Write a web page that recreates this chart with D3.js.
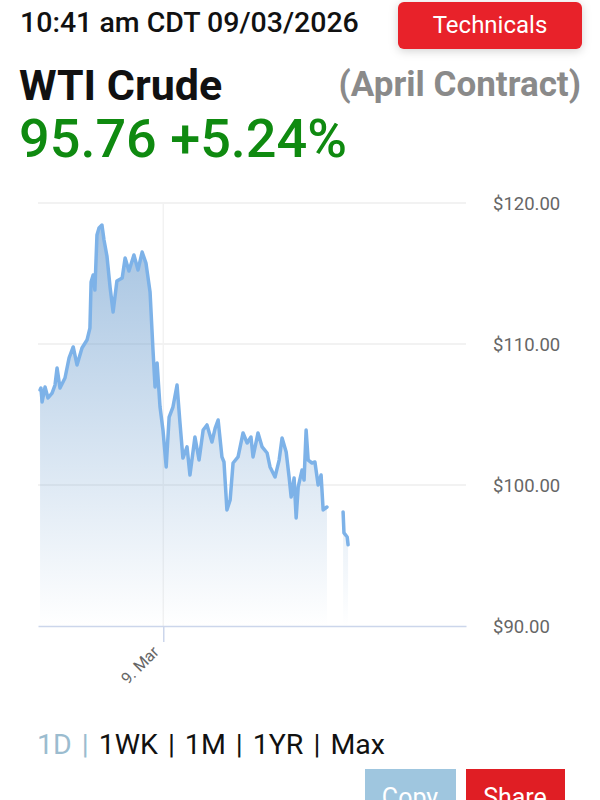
<!DOCTYPE html>
<html>
<head>
<meta charset="utf-8">
<script src="https://cdn.jsdelivr.net/npm/d3@7/dist/d3.min.js"></script>
<style>
  html, body { margin: 0; padding: 0; background: #fff; }
  svg { display: block; font-family: Roboto, "Noto Sans", sans-serif; }
</style>
</head>
<body>
<svg id="chart" width="600" height="800"></svg>
<script>
// ---- data ----
// minutes since 8 Mar 2026 17:00 CDT; null price marks a gap in trading data
const minutes = [0,3,7,17,27,41,51,58,68,85,99,113,126,143,160,170,174,181,187,194,201,211,218,228,239,249,262,280,290,303,320,334,348,361,375,385,392,399,409,419,430,440,453,467,477,487,501,511,528,542,556,569,586,597,607,620,627,637,648,658,675,692,706,719,726,743,757,774,784,801,815,825,839,849,856,866,873,880,893,900,907,914,927,937,948,958,965,978,1005,1033,1036,1047,1050];
const prices = [106.74,106.88,105.89,106.95,106.17,106.52,107.09,108.30,106.88,107.59,109.01,109.79,108.51,109.72,110.28,111.13,114.40,114.89,113.83,117.73,118.23,118.44,117.38,116.24,113.97,112.27,114.47,114.68,116.10,115.18,116.31,115.25,116.52,115.74,113.69,109.57,106.95,108.65,105.53,103.90,101.28,104.82,105.53,107.09,104.40,101.91,102.70,100.71,103.40,101.77,103.90,104.26,103.05,104.04,104.61,101.99,101.63,98.23,98.94,101.56,101.99,103.69,102.98,103.40,101.99,103.69,102.70,102.27,101.28,100.57,101.77,103.33,102.34,100.57,99.15,100.50,97.66,99.86,101.06,100.35,103.90,101.77,101.56,101.63,100.00,100.71,98.23,98.44,null,98.09,96.60,96.31,95.76];
const yTicks = [90, 100, 110, 120];
const xTickLabels = ["9. Mar"];
const ranges = ["1D", "1WK", "1M", "1YR", "Max"];
const headerTime = "10:41 am CDT 09/03/2026";
const title = "WTI Crude";
const contract = "(April Contract)";
const lastPrice = "95.76";
const change = "+5.24%";

// ---- setup ----
const svg = d3.select("#chart");
const start = new Date(2026, 2, 8, 17, 0);
const data = minutes.map((m, i) => ({ t: new Date(start.getTime() + m * 60000), v: prices[i] }));

const x = d3.scaleTime()
  .domain([new Date(2026, 2, 8, 16, 53), new Date(2026, 2, 9, 17, 12)])
  .range([38, 466]);
const y = d3.scaleLinear().domain([90, 120]).range([626, 203]);

// ---- header ----
svg.append("text").attr("x", 20).attr("y", 32)
  .attr("font-size", 28.5).attr("font-weight", 500).attr("fill", "#111")
  .text(headerTime);

svg.append("defs").append("filter").attr("id", "shadow")
  .attr("x", "-20%").attr("y", "-40%").attr("width", "140%").attr("height", "180%")
  .append("feDropShadow").attr("dx", 0).attr("dy", 2).attr("stdDeviation", 5)
  .attr("flood-color", "#000").attr("flood-opacity", 0.18);

svg.append("rect").attr("x", 398).attr("y", 2).attr("width", 184).attr("height", 47)
  .attr("rx", 6).attr("fill", "#e8202a").attr("filter", "url(#shadow)");
svg.append("text").attr("x", 490).attr("y", 33).attr("text-anchor", "middle")
  .attr("font-size", 24).attr("fill", "#fff").text("Technicals");

svg.append("text").attr("x", 19).attr("y", 100)
  .attr("font-size", 43).attr("font-weight", 700).attr("fill", "#111")
  .text(title);
svg.append("text").attr("x", 581).attr("y", 96).attr("text-anchor", "end")
  .attr("font-size", 35).attr("font-weight", 700).attr("fill", "#8a8a8a")
  .text(contract);
svg.append("text").attr("x", 19).attr("y", 157)
  .attr("font-size", 54).attr("font-weight", 500).attr("fill", "#0f8a10")
  .text(lastPrice + " " + change);

// ---- chart ----
const defs = svg.select("defs");
const grad = defs.append("linearGradient").attr("id", "areaGrad")
  .attr("gradientUnits", "userSpaceOnUse")
  .attr("x1", 0).attr("y1", 203).attr("x2", 0).attr("y2", 626);
grad.append("stop").attr("offset", 0).attr("stop-color", "rgb(105,155,205)").attr("stop-opacity", 0.64);
grad.append("stop").attr("offset", 1).attr("stop-color", "rgb(105,155,205)").attr("stop-opacity", 0);

// horizontal gridlines
svg.append("g").selectAll("line").data(yTicks.filter(d => d !== 90)).join("line")
  .attr("x1", 38).attr("x2", 466)
  .attr("y1", d => y(d)).attr("y2", d => y(d))
  .attr("stroke", "#eeeeee").attr("stroke-width", 1.5);

// vertical gridline at day boundary
const dayTick = new Date(2026, 2, 9, 0, 0);
svg.append("line").attr("x1", x(dayTick)).attr("x2", x(dayTick))
  .attr("y1", 203).attr("y2", 626).attr("stroke", "#f2f2f2").attr("stroke-width", 1.5);

// area + line
const area = d3.area().defined(d => d.v !== null)
  .x(d => x(d.t)).y0(y(90)).y1(d => y(d.v));
const line = d3.line().defined(d => d.v !== null)
  .x(d => x(d.t)).y(d => y(d.v));

svg.append("path").datum(data).attr("d", area).attr("fill", "url(#areaGrad)");
svg.append("path").datum(data).attr("d", line)
  .attr("fill", "none").attr("stroke", "#7db2e8").attr("stroke-width", 3.5)
  .attr("stroke-linejoin", "round").attr("stroke-linecap", "round");

// x axis
const xAxis = d3.axisBottom(x).tickValues([dayTick]).tickFormat(() => xTickLabels[0])
  .tickSize(16).tickSizeOuter(0);
const gx = svg.append("g").attr("transform", "translate(0,626)").call(xAxis);
gx.select(".domain").attr("stroke", "#ccd6eb").attr("stroke-width", 1.5);
gx.selectAll(".tick line").attr("stroke", "#ccd6eb").attr("stroke-width", 1.5);
gx.selectAll(".tick text")
  .attr("font-family", "Roboto, sans-serif").attr("font-size", 16).attr("fill", "#666")
  .attr("text-anchor", "end").attr("dy", 0).attr("y", 0)
  .attr("transform", "translate(-4,27) rotate(-45)");

// y axis labels
const yAxis = d3.axisRight(y).tickValues(yTicks).tickFormat(d => "$" + d3.format(".2f")(d)).tickSize(0);
const gy = svg.append("g").attr("transform", "translate(493,0)").call(yAxis);
gy.select(".domain").remove();
gy.selectAll(".tick text")
  .attr("font-family", "Roboto, sans-serif").attr("font-size", 18.5).attr("fill", "#666")
  .attr("x", 0).attr("dy", "0.35em");

// ---- range selector ----
const rsG = svg.append("g").attr("font-size", 28.5);
let cx = 37;
ranges.forEach((r, i) => {
  const col = i === 0 ? "#9bbccf" : "#111";
  const t = rsG.append("text").attr("x", cx).attr("y", 754).attr("fill", col).text(r);
  cx += t.node().getComputedTextLength() + 10;
  if (i < ranges.length - 1) {
    const s = rsG.append("text").attr("x", cx).attr("y", 754).attr("fill", col).text("|");
    cx += s.node().getComputedTextLength() + 10;
  }
});

// ---- buttons ----
svg.append("rect").attr("x", 365).attr("y", 769).attr("width", 91).attr("height", 40).attr("fill", "#9fc6df");
svg.append("text").attr("x", 410).attr("y", 806).attr("text-anchor", "middle").attr("font-size", 25).attr("fill", "#fff").text("Copy");
svg.append("rect").attr("x", 466).attr("y", 769).attr("width", 99).attr("height", 40).attr("fill", "#e01e24");
svg.append("text").attr("x", 515).attr("y", 806).attr("text-anchor", "middle").attr("font-size", 25).attr("fill", "#fff").text("Share");
</script>
</body>
</html>
